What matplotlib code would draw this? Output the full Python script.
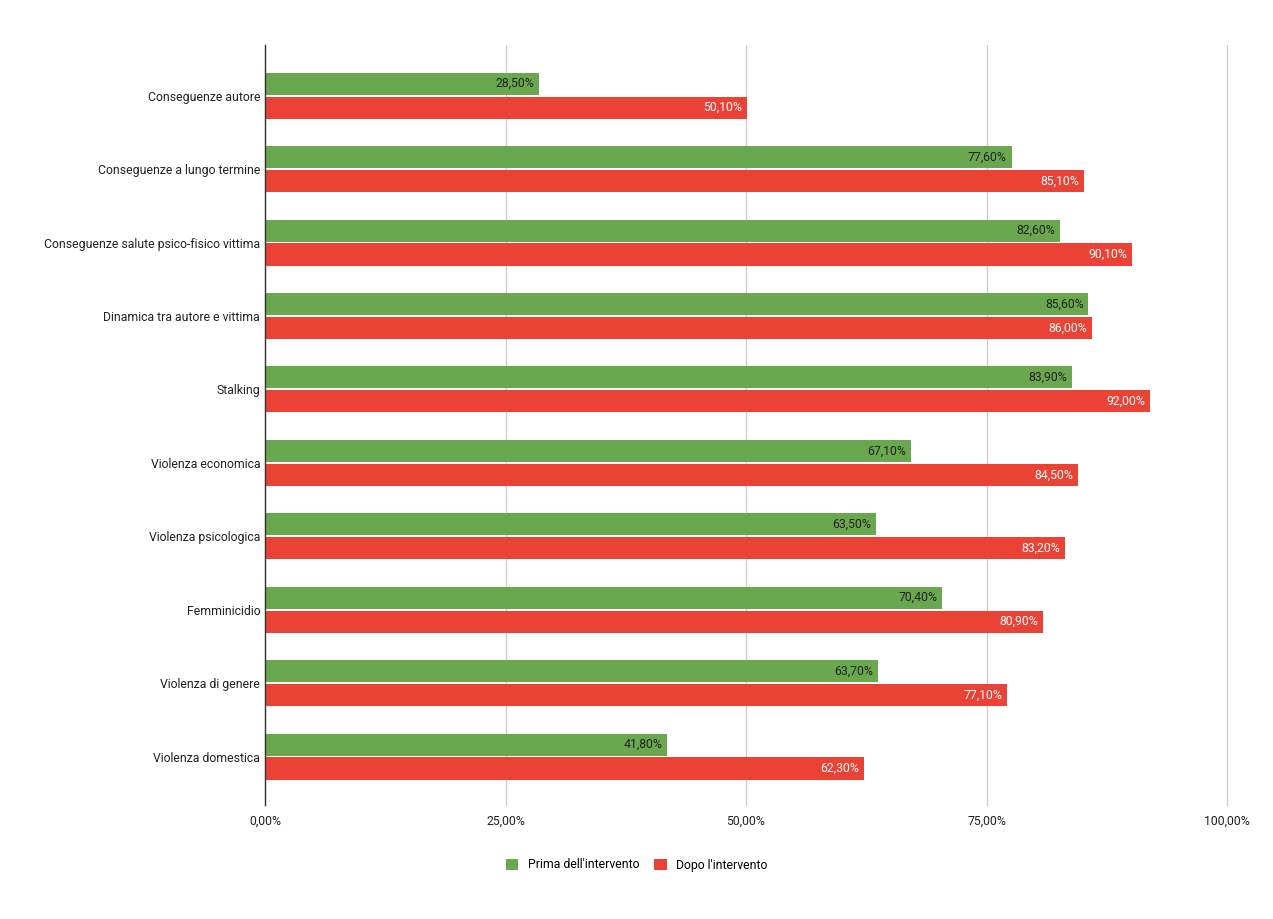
import numpy as np
import matplotlib
matplotlib.use("Agg")
from matplotlib import pyplot as plt
from matplotlib.patches import Patch

plt.rcParams['font.family'] = ['Roboto', 'DejaVu Sans']

categories = ["Conseguenze autore", "Conseguenze a lungo termine",
              "Conseguenze salute psico-fisico vittima", "Dinamica tra autore e vittima",
              "Stalking", "Violenza economica", "Violenza psicologica",
              "Femminicidio", "Violenza di genere", "Violenza domestica"]
prima = [28.5, 77.6, 82.6, 85.6, 83.9, 67.1, 63.5, 70.4, 63.7, 41.8]
dopo = [50.1, 85.1, 90.1, 86.0, 92.0, 84.5, 83.2, 80.9, 77.1, 62.3]
series_names = ["Prima dell'intervento", "Dopo l'intervento"]
xticks = [0, 25, 50, 75, 100]

green = "#6aa84f"
red = "#ea4335"
fs = 8.8

W, H = 1273, 919
fig = plt.figure(figsize=(W / 100, H / 100), dpi=100)
ax = fig.add_axes([265 / W, 1 - 805 / H, (1227 - 265) / W, (805 - 45) / H])

y = np.arange(len(categories))
bh = 0.30
off = 0.163

def fmt(v):
    return ("%.2f%%" % v).replace(".", ",")

b1 = ax.barh(y - off, prima, height=bh, color=green, zorder=3)
b2 = ax.barh(y + off, dopo, height=bh, color=red, zorder=3)

for yy, v in zip(y, prima):
    ax.text(v - 0.5, yy - off, fmt(v), ha="right", va="center", fontsize=fs,
            color="#222222", zorder=4)
for yy, v in zip(y, dopo):
    ax.text(v - 0.5, yy + off, fmt(v), ha="right", va="center", fontsize=fs,
            color="white", zorder=4)

ax.set_xlim(0, 100)
ax.set_ylim(len(categories) - 1 + 0.66, -0.69)
ax.set_yticks(y)
ax.set_yticklabels(categories, fontsize=fs, color="#222222")
ax.set_xticks(xticks)
ax.set_xticklabels([fmt(t) for t in xticks], fontsize=fs, color="#222222")
ax.tick_params(axis="y", length=0, pad=3.5)
ax.tick_params(axis="x", length=0, pad=7)

ax.grid(axis="x", color="#cccccc", linewidth=0.9, zorder=0)
for line in ax.get_xgridlines():
    line.set_clip_on(False)
for s in ["top", "right", "bottom"]:
    ax.spines[s].set_visible(False)
ax.spines["left"].set_color("#333333")
ax.spines["left"].set_linewidth(1.0)
ax.spines["left"].set_zorder(5)

handles = [Patch(facecolor=green, label=series_names[0]),
           Patch(facecolor=red, label=series_names[1])]
fig.legend(handles=handles, loc="center", bbox_to_anchor=(637 / W, 1 - 865 / H),
           ncol=2, frameon=False, fontsize=fs, handlelength=1.0, handleheight=1.0,
           handletextpad=0.8, columnspacing=1.2)

fig.savefig("out.png", dpi=100)
